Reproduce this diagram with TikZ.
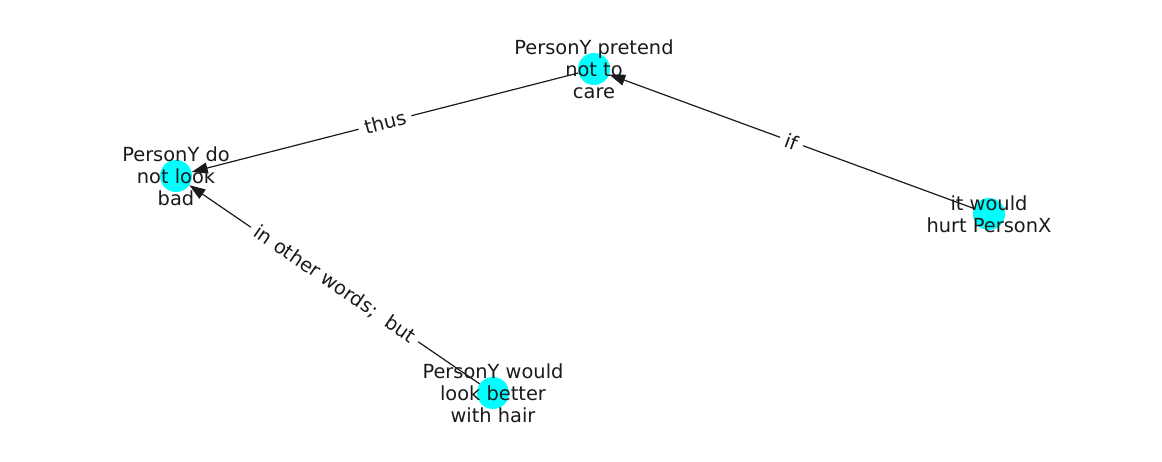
\documentclass[tikz,border=0pt]{standalone}
\usepackage{fontspec}
\setmainfont{DejaVu Sans}
\usetikzlibrary{arrows.meta}
\definecolor{conceptcyan}{HTML}{00FFFF}
\definecolor{inkdark}{HTML}{1A1A1A}

\begin{document}
\begin{tikzpicture}[x=1pt, y=-1pt,
    concept/.style={circle, fill=conceptcyan, minimum size=32pt, inner sep=0pt},
    conceptlabel/.style={align=center, font=\fontsize{19.4}{22}\selectfont, text=inkdark},
    relation/.style={-{Triangle[length=16pt, width=11pt]}, line width=1.2pt, draw=inkdark},
    relationlabel/.style={midway, sloped, fill=white, inner xsep=6pt, inner ysep=4pt, font=\fontsize{19.4}{22}\selectfont, text=inkdark}]

    % Canvas
    \useasboundingbox (0,0) rectangle (1162,462);

    % Concepts
    \node[concept] (care) at (594,69) {};
    \node[concept] (look) at (176,176) {};
    \node[concept] (hurt) at (989,214) {};
    \node[concept] (hair) at (493,393) {};

    % Relations
    \draw[relation] (care) -- node[relationlabel] {thus} (look);
    \draw[relation] (hurt) -- node[relationlabel] {if} (care);
    \draw[relation] (hair) -- node[relationlabel] {in other words;\ \ but} (look);

    % Concept texts
    \node[conceptlabel] (care-text) at (care) {PersonY pretend\\not to\\care};
    \node[conceptlabel] (look-text) at (look) {PersonY do\\not look\\bad};
    \node[conceptlabel] (hurt-text) at (hurt) {it would\\hurt PersonX};
    \node[conceptlabel] (hair-text) at (hair) {PersonY would\\look better\\with hair};
\end{tikzpicture}
\end{document}
